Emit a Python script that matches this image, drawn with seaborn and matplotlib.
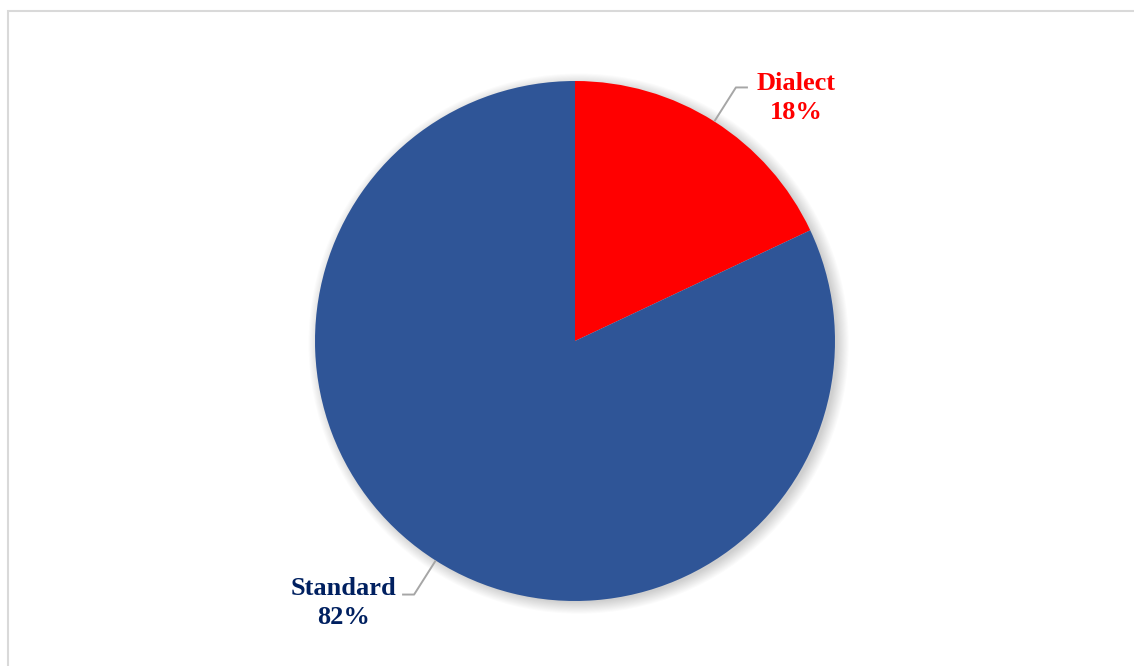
import numpy as np
import matplotlib
matplotlib.use("Agg")
import matplotlib.pyplot as plt
from matplotlib.patches import Circle, Rectangle
import seaborn as sns

# Share of speech variety
categories = ["Dialect", "Standard"]
shares = [18, 82]
slice_colors = ["#FF0000", "#2F5597"]
label_colors = ["#FF0000", "#002060"]

sns.set_theme(style="white")
plt.rcParams["font.family"] = ["Liberation Serif", "DejaVu Serif"]

W, H = 1134, 666
fig = plt.figure(figsize=(W / 100, H / 100), dpi=100)
fig.patch.set_facecolor("white")

# light frame around the chart area
fig.add_artist(Rectangle((8 / W, -0.1), 1.2, (H - 11) / H + 0.1,
                         transform=fig.transFigure, fill=False,
                         edgecolor="#D9D9D9", linewidth=1.5))

cx, cy, R = 575, 341, 260
pad = 120
ax = fig.add_axes([(cx - R - pad) / W, (H - cy - R - pad) / H,
                   2 * (R + pad) / W, 2 * (R + pad) / H])
ax.axis("off")

# soft drop shadow behind the pie
for i in range(12):
    ax.add_patch(Circle((0.014, -0.010), 0.995 + 0.004 * i, facecolor="black",
                        alpha=0.014, edgecolor="none", zorder=0))

wedges, _ = ax.pie(shares, colors=slice_colors, startangle=90,
                   counterclock=False, radius=1.0,
                   wedgeprops=dict(linewidth=0))
for w in wedges:
    w.set_zorder(2)

lim = (R + pad) / R
ax.set_xlim(-lim, lim)
ax.set_ylim(-lim, lim)
ax.set_aspect("equal")

# leader lines and labels
label_pos = {"Dialect": (796, 98), "Standard": (344, 603)}
for w, name, share, col in zip(wedges, categories, shares, label_colors):
    mid = np.deg2rad((w.theta1 + w.theta2) / 2)
    x0, y0 = np.cos(mid) * 1.0, np.sin(mid) * 1.0
    x1, y1 = np.cos(mid) * 1.155, np.sin(mid) * 1.155
    x2 = x1 + np.sign(x1) * 12 / R
    ax.plot([x0, x1, x2], [y0, y1, y1], color="#A6A6A6", linewidth=1.4,
            zorder=3, solid_capstyle="butt")
    px, py = label_pos[name]
    ax.text((px - cx) / R, (cy - py) / R, f"{name}\n{share}%",
            ha="center", va="center", fontsize=19, fontweight="bold",
            color=col, linespacing=1.28, zorder=4)

fig.savefig("out.png", dpi=100, facecolor="white")
